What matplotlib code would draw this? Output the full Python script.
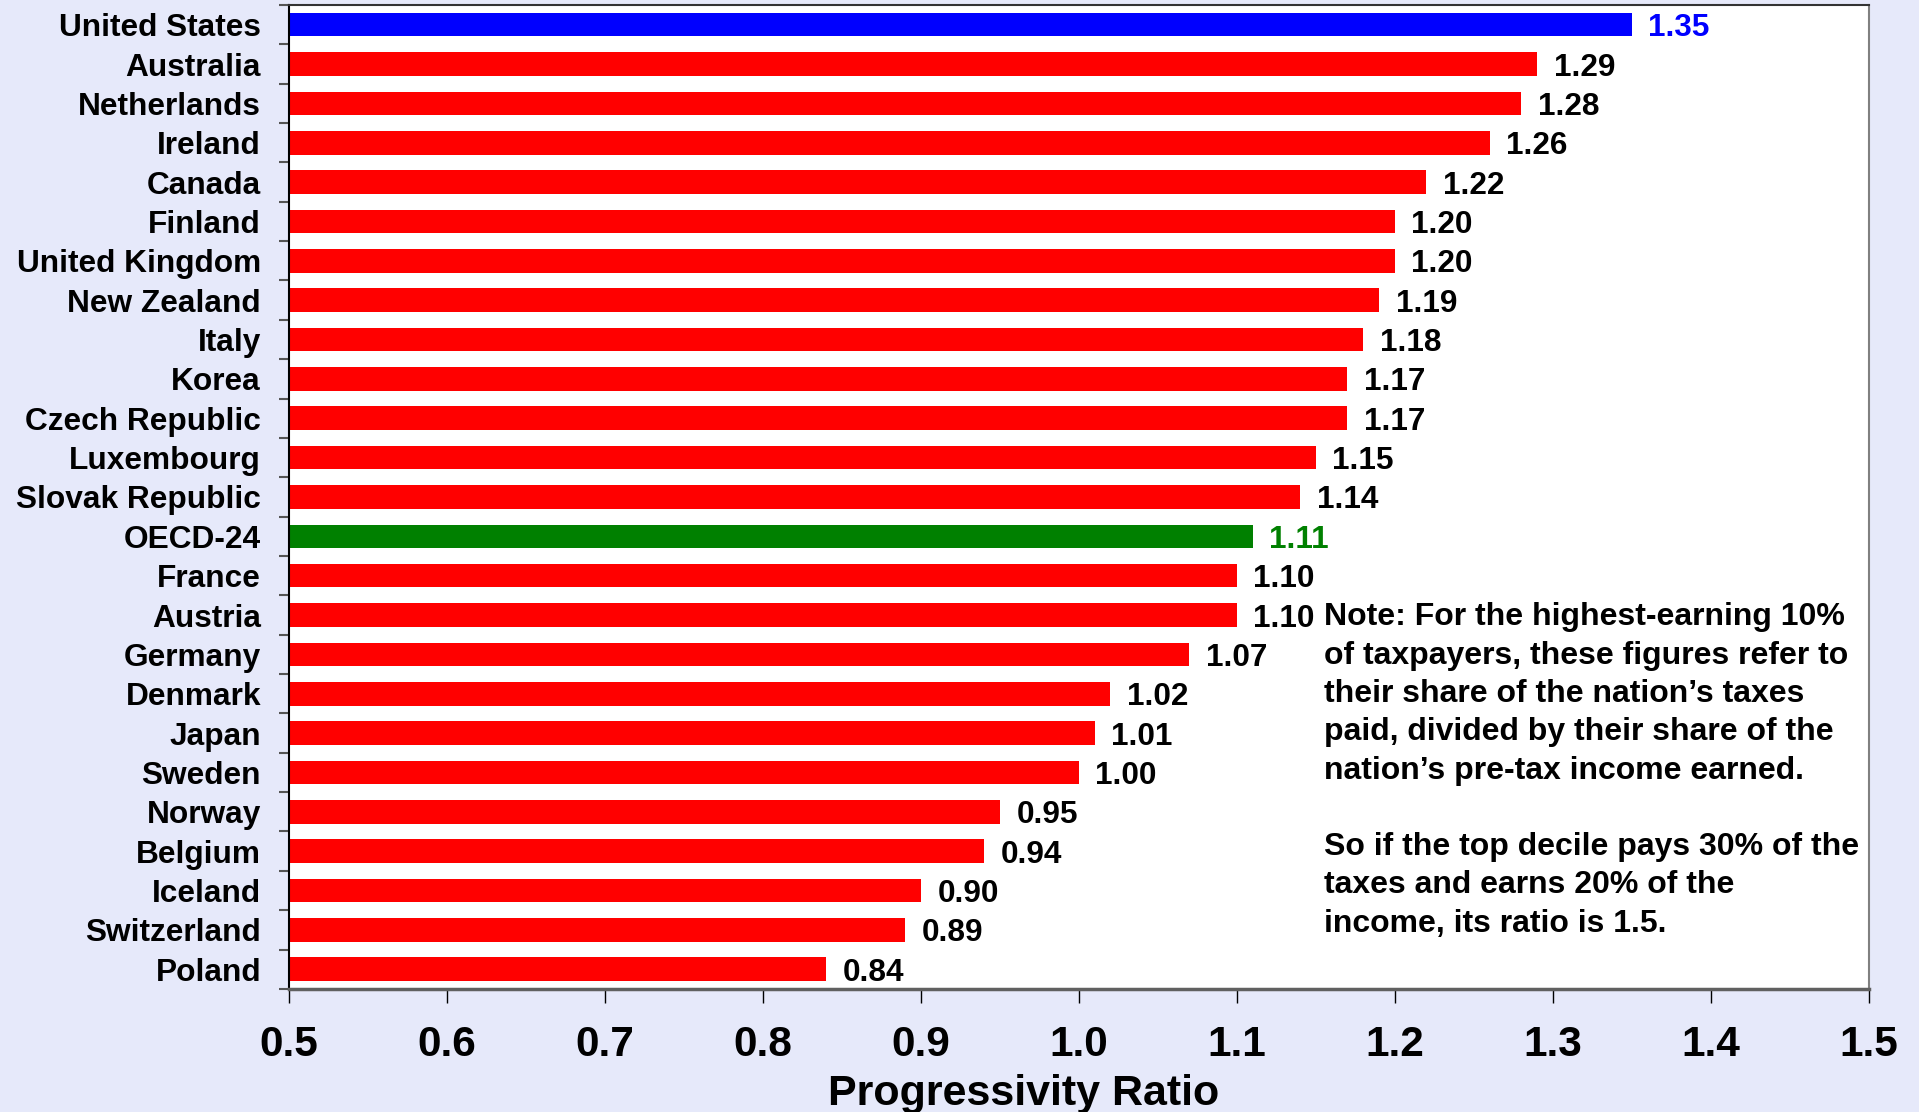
import matplotlib
matplotlib.use("Agg")
import matplotlib.pyplot as plt
from matplotlib.ticker import FixedLocator

countries = [
    "United States", "Australia", "Netherlands", "Ireland", "Canada",
    "Finland", "United Kingdom", "New Zealand", "Italy", "Korea",
    "Czech Republic", "Luxembourg", "Slovak Republic", "OECD-24", "France",
    "Austria", "Germany", "Denmark", "Japan", "Sweden", "Norway",
    "Belgium", "Iceland", "Switzerland", "Poland",
]
ratios = [
    1.35, 1.29, 1.28, 1.26, 1.22, 1.20, 1.20, 1.19, 1.18, 1.17,
    1.17, 1.15, 1.14, 1.11, 1.10, 1.10, 1.07, 1.02, 1.01, 1.00,
    0.95, 0.94, 0.90, 0.89, 0.84,
]
x_ticks = [0.5, 0.6, 0.7, 0.8, 0.9, 1.0, 1.1, 1.2, 1.3, 1.4, 1.5]

note_text = (
    "Note: For the highest-earning 10%\n"
    "of taxpayers, these figures refer to\n"
    "their share of the nation\u2019s taxes\n"
    "paid, divided by their share of the\n"
    "nation\u2019s pre-tax income earned.\n"
    "\n"
    "So if the top decile pays 30% of the\n"
    "taxes and earns 20% of the\n"
    "income, its ratio is 1.5."
)

BG = "#E6E9FA"
RED = "#FF0000"
BLUE = "#0000FF"
GREEN = "#008000"

def bar_color(name):
    if name == "United States":
        return BLUE
    if name == "OECD-24":
        return GREEN
    return RED

def label_color(name):
    if name == "United States":
        return BLUE
    if name == "OECD-24":
        return GREEN
    return "black"

plt.rcParams["font.family"] = ["Liberation Sans", "DejaVu Sans"]
plt.rcParams["font.weight"] = "bold"

fig = plt.figure(figsize=(19.19, 11.12), dpi=100, facecolor=BG)
ax = fig.add_axes([0.1505, 0.1107, 0.8233, 0.8848])
ax.set_facecolor("white")

ypos = list(range(len(countries)))
base = 0.5
ax.barh(ypos, [r - base for r in ratios], left=base, height=0.6,
        color=[bar_color(c) for c in countries], edgecolor="none")

for y, (c, r) in enumerate(zip(countries, ratios)):
    ax.annotate(f"{r:.2f}", xy=(r, y), xytext=(12, 0),
                textcoords="offset points", ha="left", va="center_baseline",
                fontsize=22.7, fontweight="bold", color=label_color(c))

ax.set_xlim(0.5, 1.5)
ax.set_ylim(len(countries) - 0.5, -0.5)

ax.set_yticks(ypos)
ax.set_yticklabels(countries, fontsize=22.8, fontweight="bold", va="center_baseline")
ax.yaxis.set_minor_locator(FixedLocator([i + 0.5 for i in range(-1, len(countries))]))
ax.tick_params(axis="y", which="major", length=0, pad=20)
ax.tick_params(axis="y", which="minor", length=7, width=1.5, color="#555555")

ax.set_xticks(x_ticks)
ax.set_xticklabels([f"{v:.1f}" for v in x_ticks], fontsize=30.5, fontweight="bold")
ax.tick_params(axis="x", which="major", length=10, width=1, color="black", pad=16)

ax.set_xlabel("Progressivity Ratio", fontsize=31, fontweight="bold")
ax.xaxis.label.set_verticalalignment("center")
ax.xaxis.set_label_coords(0.465, -0.1067)

ax.spines["left"].set_color("black")
ax.spines["left"].set_linewidth(1.5)
ax.spines["top"].set_color("#333333")
ax.spines["top"].set_linewidth(1.5)
ax.spines["right"].set_color("#808080")
ax.spines["right"].set_linewidth(1.5)
ax.spines["bottom"].set_color("#606060")
ax.spines["bottom"].set_linewidth(2.5)

ax.text(1.155, 14.68, note_text, ha="left", va="top", fontsize=23,
        fontweight="bold", linespacing=1.36, color="black")

fig.savefig("out.png", dpi=100, facecolor=BG)
